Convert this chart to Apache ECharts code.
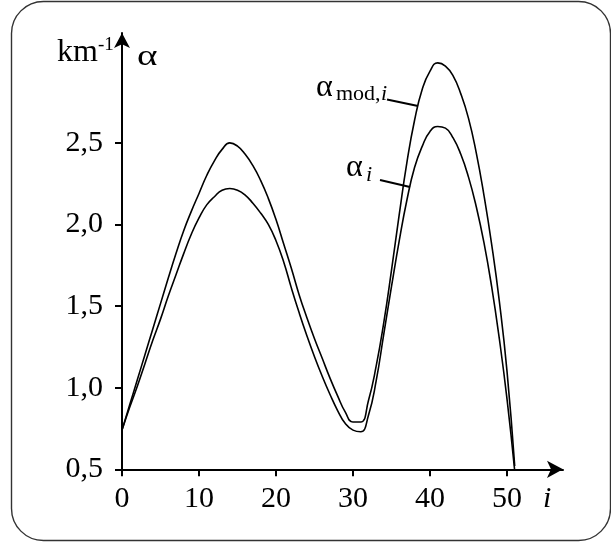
<!DOCTYPE html>
<html>
<head>
<meta charset="utf-8">
<script src="https://cdn.jsdelivr.net/npm/echarts@6/dist/echarts.min.js"></script>
<style>
html,body{margin:0;padding:0;background:#fff;}
#c{width:611px;height:542px;}
</style>
</head>
<body>
<div id="c"></div>
<script>
// index i
const iValues = [0,1,2,3,4,5,6,7,8,9,10,11,12,13,14,15,16,17,18,19,20,21,22,23,24,25,26,27,28,29,30,31,32,33,34,35,36,37,38,39,40,41,42,43,44,45,46,47,48,49,50,51];
// alpha_mod,i  (km^-1)
const alphaMod = [0.74,0.895,1.05,1.205,1.36,1.515,1.67,1.82,1.96,2.08,2.19,2.30,2.39,2.46,2.50,2.48,2.43,2.36,2.27,2.16,2.03,1.88,1.73,1.57,1.43,1.30,1.18,1.06,0.95,0.85,0.79,0.79,0.92,1.13,1.40,1.72,2.06,2.38,2.64,2.83,2.94,2.99,2.97,2.91,2.80,2.65,2.44,2.18,1.88,1.53,1.10,0.52];
// alpha_i  (km^-1)
const alphaI = [0.74,0.88,1.01,1.15,1.29,1.42,1.56,1.69,1.82,1.94,2.04,2.12,2.17,2.21,2.22,2.21,2.18,2.13,2.07,2.00,1.90,1.77,1.61,1.46,1.32,1.19,1.07,0.96,0.86,0.78,0.74,0.73,0.83,1.04,1.33,1.62,1.90,2.15,2.35,2.48,2.57,2.60,2.59,2.53,2.43,2.29,2.11,1.89,1.62,1.30,0.93,0.49];
const xTicks = [0,10,20,30,40,50];
const yTicks = [0.5,1.0,1.5,2.0,2.5];
const yTickLabels = ['0,5','1,0','1,5','2,0','2,5'];

const FONT = '"Liberation Serif","Times New Roman",serif';
const chart = echarts.init(document.getElementById('c'), null, {renderer:'canvas'});

function pairs(ys){ return iValues.map((x,k)=>[x, ys[k]]); }

function txt(x, y, text, size, opts){
  opts = opts || {};
  return {
    type:'text', x:x, y:y, z:10, scaleX: opts.sx || 1,
    style:{
      text:text, fill:'#000',
      font:(opts.italic?'italic ':'') + size + 'px ' + FONT,
      align: opts.align || 'left', verticalAlign:'middle'
    }
  };
}

const option = {
  backgroundColor:'#fff',
  animation:false,
  grid:{left:122, top:33, width:441, height:436.3, containLabel:false},
  xAxis:{
    type:'value', min:0, max:57.27,
    axisLine:{show:true, symbol:['none','arrow'], symbolSize:[13,16], lineStyle:{color:'#000', width:2}},
    axisTick:{show:true, length:7, lineStyle:{color:'#000', width:2}, customValues:xTicks},
    axisLabel:{color:'#000', fontFamily:FONT, fontSize:30, margin:15, customValues:xTicks},
    splitLine:{show:false}
  },
  yAxis:{
    type:'value', min:0.5, max:3.173,
    axisLine:{show:true, symbol:['none','arrow'], symbolSize:[12,15], lineStyle:{color:'#000', width:2}},
    axisTick:{show:true, length:7, lineStyle:{color:'#000', width:2}, customValues:yTicks},
    axisLabel:{color:'#000', fontFamily:FONT, fontSize:30, margin:19, customValues:yTicks,
      formatter:function(v){ const k = yTicks.findIndex(t=>Math.abs(t-v)<1e-6); return k>=0 ? yTickLabels[k] : ''; }},
    splitLine:{show:false}
  },
  series:[
    {type:'line', data:pairs(alphaMod), smooth:0.5, symbol:'none', clip:true,
      lineStyle:{color:'#000', width:1.6}},
    {type:'line', data:pairs(alphaI), smooth:0.5, symbol:'none', clip:true,
      lineStyle:{color:'#000', width:1.6}}
  ],
  graphic:[
    {type:'rect', shape:{x:11.5, y:1.5, width:599, height:539, r:32}, z:-1,
      style:{fill:'none', stroke:'#333', lineWidth:1.4}},
    txt(57, 53, 'km', 32),
    txt(98, 45, '-1', 19),
    txt(137, 57, 'α', 30, {sx:1.3}),
    txt(316, 88, 'α', 32),
    txt(336, 94, 'mod,', 22),
    txt(381, 94, 'i', 22, {italic:true}),
    {type:'line', shape:{x1:387, y1:99.5, x2:418, y2:106}, z:10, style:{stroke:'#000', lineWidth:2}},
    txt(346, 168, 'α', 32),
    txt(366, 175, 'i', 22, {italic:true}),
    {type:'line', shape:{x1:380, y1:180, x2:410, y2:187}, z:10, style:{stroke:'#000', lineWidth:2}},
    txt(543, 499, 'i', 30, {italic:true})
  ]
};
chart.setOption(option);
</script>
</body>
</html>
